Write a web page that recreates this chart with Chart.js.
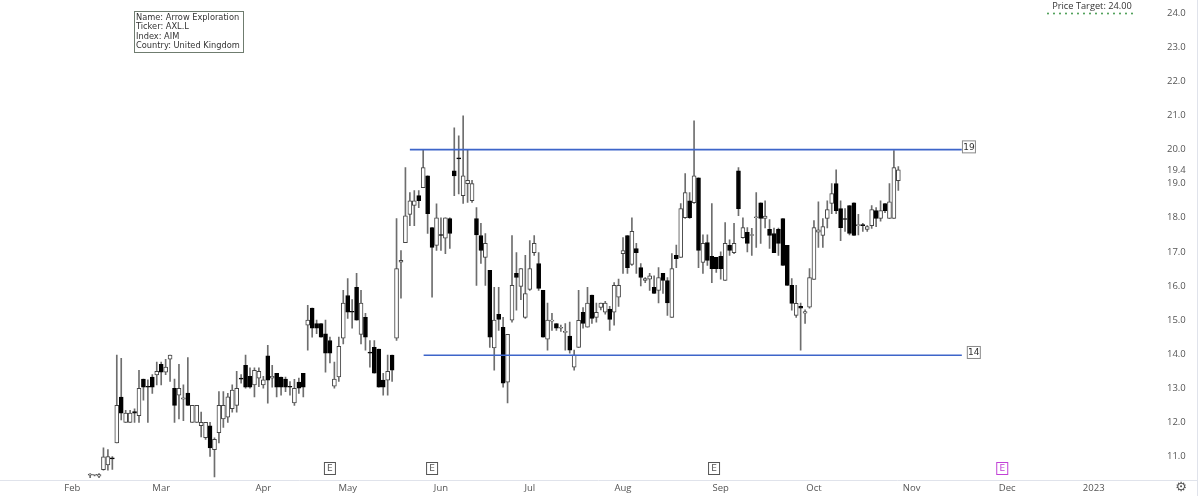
<!DOCTYPE html>
<html lang="en">
<head>
<meta charset="UTF-8" />
<title>AXL.L daily</title>
<style>
  html, body { margin: 0; padding: 0; background: #fff; }
  #wrap { width: 1200px; height: 496px; position: relative; }
</style>
</head>
<body>
<div id="wrap"><canvas id="chart"></canvas></div>
<script src="https://cdn.jsdelivr.net/npm/chart.js@4.4.0/dist/chart.umd.min.js"></script>
<script>
// bar index 0 = first trading day of Feb 2022, candles start at firstBar
var firstBar = 4;
var opens = [10.45,10.45,10.42,10.61,10.75,10.95,11.40,12.74,12.0,12.0,12.32,12.2,13.27,13.05,13.33,13.39,13.7,13.47,13.85,13.0,
  12.8,12.68,12.86,12.0,12.0,11.9,11.55,11.9,11.2,11.7,12.1,12.15,12.4,12.5,13.3,13.67,13.35,13.1,13.3,13.1,
  13.95,13.3,13.44,13.33,13.27,13.05,12.57,13.18,13.44,14.85,15.35,14.9,14.9,14.6,14.4,13.06,13.33,14.47,15.72,15.25,
  15.96,14.58,15.08,14.05,14.2,14.15,13.24,13.24,13.97,14.47,16.7,17.27,18.1,18.36,18.65,18.88,19.23,17.71,17.19,17.5,
  17.4,17.98,19.38,19.75,18.65,19.0,18.5,17.98,17.48,16.84,16.46,14.18,15.17,14.79,13.18,15.0,16.37,15.99,15.08,15.9,
  16.98,16.66,15.87,14.44,14.97,14.9,14.76,14.64,14.53,13.62,14.2,15.23,14.79,15.73,15.08,15.37,15.23,15.32,15.23,15.67,
  16.95,17.48,16.63,17.1,16.54,16.16,16.2,15.96,15.87,16.37,16.16,15.08,16.9,16.84,18.0,18.5,18.44,19.17,16.69,17.27,
  16.87,16.84,16.87,16.16,17.19,16.98,19.38,17.42,17.57,17.48,18.0,18.44,17.98,17.66,17.54,17.66,17.98,17.19,16.02,15.14,
  15.4,15.2,15.38,16.19,17.58,17.48,17.98,18.42,19.0,18.27,17.97,18.36,18.44,17.77,17.78,17.66,17.77,18.21,17.98,18.42,
  17.98,17.98,19.09];
var highs = [10.5,10.47,10.5,11.25,11.2,11.0,13.97,13.88,12.35,12.35,12.4,13.53,13.27,13.25,13.4,13.77,13.77,13.85,13.97,13.27,
  13.7,13.1,13.9,12.5,12.5,12.3,12.0,12.0,11.55,12.9,12.9,12.85,13.1,13.5,13.4,13.97,13.6,13.6,13.6,13.35,
  14.26,13.67,13.44,13.33,13.33,13.2,13.26,13.3,13.44,15.43,15.35,15.0,14.9,15.0,14.5,13.77,14.5,15.87,16.22,15.6,
  16.37,15.87,15.2,14.4,14.4,14.15,13.44,13.97,13.97,17.98,17.04,19.47,18.74,18.8,18.8,19.99,19.23,17.71,18.41,18.0,
  18.0,18.0,20.64,20.4,20.99,20.0,19.1,18.3,17.84,17.54,16.46,15.96,15.96,15.08,14.58,17.48,16.98,16.51,16.9,17.33,
  17.48,16.98,15.87,15.5,15.2,14.9,14.85,14.9,14.94,14.12,15.87,15.37,15.96,15.73,15.5,15.5,15.55,15.4,16.1,16.2,
  17.42,17.48,18.0,17.25,16.66,16.25,16.37,16.3,16.54,16.37,16.25,16.95,17.2,18.42,19.3,18.74,20.84,19.17,17.5,17.5,
  18.42,16.84,17.0,17.86,17.35,17.84,19.47,18.0,17.71,17.69,18.74,18.44,18.5,17.95,17.7,17.7,17.98,17.19,16.22,16.02,
  15.5,15.3,16.51,17.92,18.47,17.98,18.5,19.0,19.41,18.5,18.27,18.36,18.44,18.1,17.84,17.77,18.36,18.3,18.5,18.42,
  19.0,19.97,19.5];
var lows = [10.38,10.43,10.38,10.6,10.6,10.62,11.40,12.07,12.0,12.0,12.0,12.0,12.65,12.0,12.85,13.1,13.1,13.4,13.2,12.0,
  12.1,12.05,12.5,12.0,12.0,11.57,11.5,11.0,10.4,11.4,11.85,12.0,12.3,12.3,13.15,13.0,13.0,12.75,13.05,13.0,
  12.56,13.03,12.75,12.8,12.9,12.8,12.5,12.85,12.75,14.12,14.5,14.6,14.5,13.47,13.74,13.0,13.2,14.3,15.05,14.76,
  15.0,14.3,14.12,13.62,13.44,13.03,12.8,12.8,13.2,14.4,15.64,17.27,17.77,17.77,18.3,18.88,17.54,15.67,17.04,17.04,
  16.95,17.1,18.65,18.7,18.42,18.45,18.45,16.02,16.66,16.02,14.2,13.53,14.7,13.03,12.57,14.94,15.29,15.6,15.05,15.87,
  16.9,15.87,14.5,14.12,14.7,14.7,14.67,14.12,14.03,13.53,14.2,14.76,14.79,14.9,14.94,15.3,15.17,14.7,14.85,15.4,
  16.37,16.37,16.6,16.37,16.0,16.1,15.87,15.78,15.5,15.78,15.14,15.08,16.54,16.84,17.98,17.98,18.42,16.54,16.37,16.6,
  16.1,16.4,16.2,16.16,16.9,16.95,18.06,17.4,17.0,16.9,17.13,17.25,17.7,17.1,16.98,16.9,16.6,16.02,15.29,15.08,
  14.12,14.9,15.35,16.19,17.13,17.13,17.7,18.12,18.12,17.33,17.6,17.5,17.48,17.5,17.6,17.6,17.69,17.74,17.9,18.15,
  17.98,17.98,18.8];
var closes = [10.48,10.45,10.47,10.99,11.0,10.93,12.5,12.27,12.27,12.27,12.27,13.0,13.03,13.03,13.03,13.5,13.47,13.62,13.97,12.5,
  13.0,12.72,12.5,12.5,12.5,12.0,12.0,11.25,11.5,12.5,12.5,12.75,12.95,13.0,13.27,13.03,13.03,13.53,13.5,13.25,
  13.24,13.35,13.03,13.03,13.03,13.03,13.0,13.0,13.03,15.0,14.76,14.76,14.5,14.03,14.03,13.27,14.23,15.5,15.23,15.23,
  15.0,15.5,14.5,14.03,13.44,13.03,13.03,13.5,13.53,16.51,16.75,18.06,18.5,18.5,18.5,19.47,18.12,17.13,18.0,17.48,
  18.0,17.54,19.23,19.73,19.23,19.1,19.0,17.5,17.04,17.25,14.5,15.0,15.02,13.15,14.58,16.02,16.25,16.51,15.78,16.51,
  17.25,15.93,14.5,15.0,14.97,14.76,14.76,14.64,14.12,13.97,14.99,14.9,15.5,15.05,15.23,15.5,15.5,15.02,16.02,16.02,
  17.04,16.54,17.6,16.98,16.25,16.22,16.3,15.78,16.25,16.16,15.5,16.51,16.8,18.27,18.74,18.0,19.23,17.04,17.25,16.75,
  16.51,16.51,16.51,17.25,17.04,17.25,18.27,17.71,17.25,17.48,18.02,17.98,18.05,17.48,16.98,17.25,16.6,16.02,15.49,15.49,
  15.35,15.25,16.25,17.71,17.65,17.74,18.24,18.71,18.21,17.71,17.95,17.54,17.48,17.77,17.77,17.74,18.24,17.98,18.21,18.21,
  18.47,19.47,19.41];

var monthLabels = ['Feb', 'Mar', 'Apr', 'May', 'Jun', 'Jul', 'Aug', 'Sep', 'Oct', 'Nov', 'Dec', '2023'];
var monthBars = [0, 20, 43, 62, 83, 103, 124, 146, 167, 189, 210.5, 230];
var priceTicks = [11, 12, 13, 14, 15, 16, 17, 18, 19, 20, 21, 22, 23, 24];
var lastPrice = 19.4;

var upperLevel = 20.0, lowerLevel = 13.97;
var levelStart = [76, 79.1], levelEnd = 200.3;
var earningsBars = [58, 81, 144.5, 209.4];
var infoLines = ['Name: Arrow Exploration', 'Ticker: AXL.L', 'Index: AIM', 'Country: United Kingdom'];

var wicks = [], bodies = [];
for (var k = 0; k < opens.length; k++) {
  wicks.push({ x: firstBar + k, y: [lows[k], highs[k]] });
  bodies.push({ x: firstBar + k, y: [opens[k], closes[k]] });
}

function isUp(ctx) {
  var k = ctx.dataIndex;
  return closes[k] >= opens[k];
}

// pick a font size so the text fills a given width
function fitFont(c, text, family, width) {
  var size = 8;
  c.font = size + 'px ' + family;
  while (c.measureText(text).width < width && size < 16) {
    size += 0.25;
    c.font = size + 'px ' + family;
  }
  return size;
}

var overlay = {
  id: 'overlay',
  afterDraw: function (chart) {
    var c = chart.ctx, xs = chart.scales.x, ys = chart.scales.y;
    c.save();
    // frame lines
    c.strokeStyle = '#e0e3eb';
    c.lineWidth = 1;
    c.beginPath();
    c.moveTo(0, 480.5); c.lineTo(1197, 480.5);
    c.moveTo(1197.5, 0); c.lineTo(1197.5, 496);
    c.stroke();

    // info box
    c.fillStyle = '#fff';
    c.fillRect(134, 11, 109, 41);
    c.strokeStyle = '#6f7c6f';
    c.strokeRect(134.5, 11.5, 109, 41);
    c.fillStyle = '#333';
    fitFont(c, infoLines[0], '"DejaVu Sans", sans-serif', 103);
    c.textBaseline = 'middle';
    c.textAlign = 'left';
    infoLines.forEach(function (t, i) {
      c.fillText(t, 136, 17.5 + i * 9.5);
    });

    // price target
    fitFont(c, 'Price Target: 24.00', '"Open Sans", sans-serif', 78);
    c.fillStyle = '#333';
    c.textAlign = 'center';
    c.fillText('Price Target: 24.00', 1092, 6);
    c.fillStyle = '#2f8f3a';
    for (var dx = 1048; dx <= 1137; dx += 6) {
      c.beginPath(); c.arc(dx, 13.5, 0.9, 0, Math.PI * 2); c.fill();
    }

    // level labels
    function tag(txt, cx, v) {
      var cy = ys.getPixelForValue(v);
      c.fillStyle = '#fff';
      c.fillRect(cx - 7, cy - 6.5, 14, 13);
      c.strokeStyle = '#8a8a8a';
      c.strokeRect(cx - 6.5, cy - 6, 13, 12);
      c.fillStyle = '#333';
      c.font = '9px "DejaVu Sans", sans-serif';
      c.textAlign = 'center';
      c.fillText(txt, cx, cy + 0.5);
    }
    tag('19', xs.getPixelForValue(201.9), 20.08);
    tag('14', xs.getPixelForValue(203.0), 14.05);

    // earnings markers
    earningsBars.forEach(function (b, i) {
      var cx = xs.getPixelForValue(b);
      var col = i === earningsBars.length - 1 ? '#c242d6' : '#555';
      c.fillStyle = '#fff';
      c.fillRect(cx - 6, 462, 12, 13);
      c.strokeStyle = col;
      c.strokeRect(cx - 5.5, 462.5, 11, 12);
      c.fillStyle = col;
      c.font = '9px "DejaVu Sans", sans-serif';
      c.textAlign = 'center';
      c.fillText('E', cx, 469);
    });

    // settings icon
    c.fillStyle = '#555';
    c.font = '13px "DejaVu Sans", sans-serif';
    c.fillText('\u2699', 1181, 488);
    c.restore();
  }
};

new Chart(document.getElementById('chart'), {
  type: 'bar',
  data: {
    datasets: [
      {
        label: 'wick',
        data: wicks,
        backgroundColor: '#6e6e6e',
        borderWidth: 0,
        barThickness: 1,
        grouped: false,
        order: 3
      },
      {
        label: 'body',
        data: bodies,
        backgroundColor: function (ctx) { return isUp(ctx) ? '#ffffff' : '#000000'; },
        borderColor: function (ctx) { return isUp(ctx) ? '#444444' : '#000000'; },
        borderWidth: 1,
        borderSkipped: false,
        barThickness: 4,
        minBarLength: 1,
        grouped: false,
        order: 2
      },
      {
        type: 'line',
        label: 'upper',
        data: [{ x: levelStart[0], y: upperLevel }, { x: levelEnd, y: upperLevel }],
        borderColor: '#3d65c9',
        borderWidth: 1.6,
        pointRadius: 0,
        order: 1
      },
      {
        type: 'line',
        label: 'lower',
        data: [{ x: levelStart[1], y: lowerLevel }, { x: levelEnd, y: lowerLevel }],
        borderColor: '#3d65c9',
        borderWidth: 1.6,
        pointRadius: 0,
        order: 1
      }
    ]
  },
  options: {
    responsive: true,
    maintainAspectRatio: false,
    animation: false,
    layout: { padding: 0, autoPadding: false },
    plugins: { legend: { display: false }, tooltip: { enabled: false } },
    scales: {
      x: {
        type: 'linear',
        min: -16.3,
        max: 243.8,
        offset: false,
        grid: { display: false, drawTicks: false },
        border: { display: false },
        afterFit: function (s) { s.height = 16; },
        afterBuildTicks: function (s) {
          s.ticks = monthBars.map(function (b) { return { value: b }; });
        },
        ticks: {
          autoSkip: false,
          maxRotation: 0,
          padding: 3,
          color: '#555',
          font: { family: 'Open Sans', size: 9.5 },
          callback: function (v) { return monthLabels[monthBars.indexOf(v)]; }
        }
      },
      y: {
        position: 'right',
        min: 10.31,
        max: 24.22,
        // transparent tick marks only push the labels away from the plot
        grid: { display: true, drawOnChartArea: false, drawTicks: true, tickLength: 12, color: 'rgba(0,0,0,0)' },
        border: { display: false },
        afterFit: function (s) { s.width = 45; },
        afterBuildTicks: function (s) {
          s.ticks = priceTicks.concat([lastPrice]).map(function (v) { return { value: v }; });
        },
        ticks: {
          autoSkip: false,
          padding: 0,
          color: '#555',
          font: { family: 'Open Sans', size: 9.5 },
          callback: function (v) { return v.toFixed(1); }
        }
      }
    }
  },
  plugins: [overlay]
});
</script>
</body>
</html>
